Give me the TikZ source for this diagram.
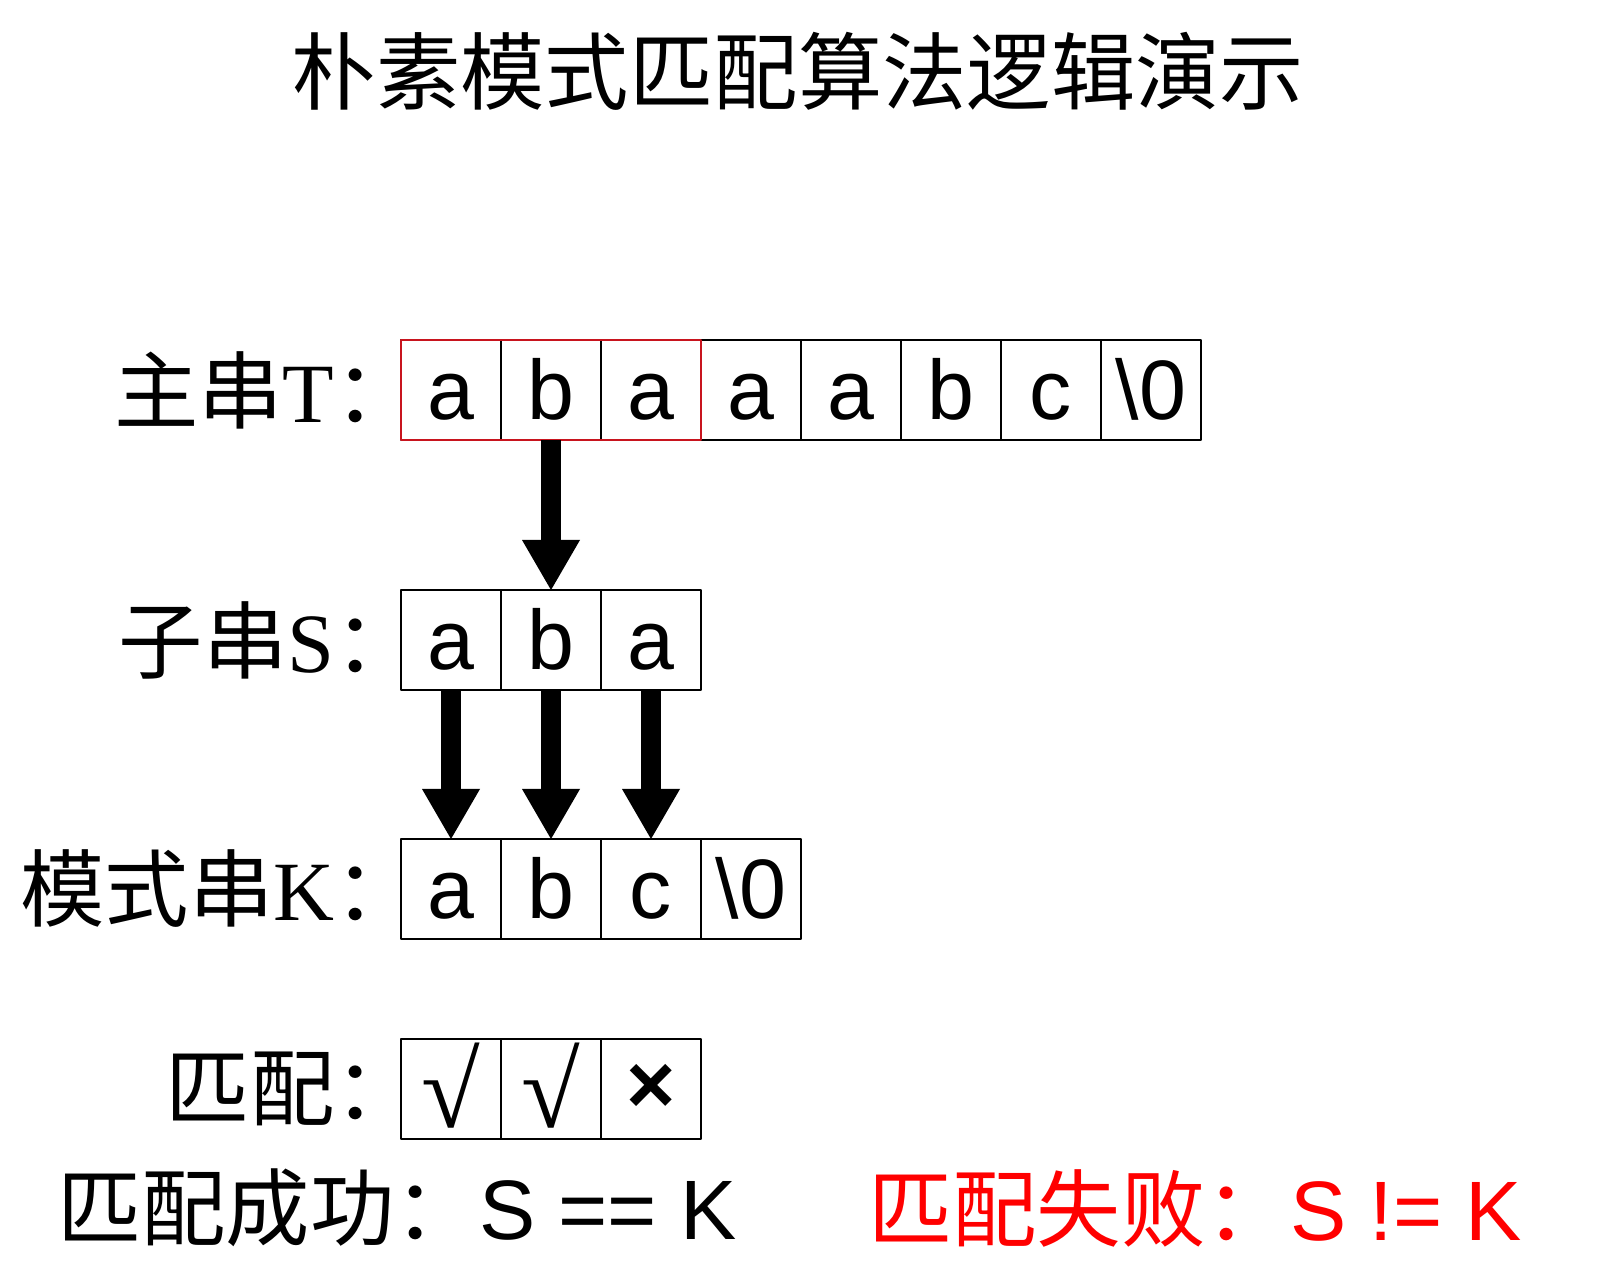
\documentclass[tikz,border=0pt]{standalone}
\usepackage{fontspec}
\setmainfont{Liberation Sans}
\newfontfamily\cjk{Noto Sans CJK SC}
\newfontfamily\lserif{Liberation Serif}
\usetikzlibrary{arrows.meta}
\definecolor{boxred}{RGB}{200,20,30}
\definecolor{txtred}{RGB}{255,0,0}
\newcommand{\okmark}{\raisebox{0.2cm}{\lserif\fontsize{76}{80}\selectfont √}}

\begin{document}
\begin{tikzpicture}[line join=round, font=\fontsize{60}{72}\selectfont,
	box/.style={draw, line width=1pt, minimum size=2.5cm, inner sep=0pt, outer sep=0pt},
	cell/.style={box, text height=1.5cm, text depth=0cm},
	lbl/.style={anchor=east, inner sep=0pt},
	bigarrow/.style={line width=0.5cm,
		-{Triangle[length=1.25cm 0 0, width=1.45cm 0 0, line width=0pt]}}]
	
	\useasboundingbox (0,0) rectangle (40,32);
	
	% ---- title ----
	\node (title) at (19.95,30.225) {\cjk 朴素模式匹配算法逻辑演示};
	
	% ---- main string T ----
	\node[lbl] (labT) at (10.475,22.25) {\cjk 主串\lserif T\cjk ：};
	\foreach \c [count=\i] in {a,b,a,a,a,b,c,\textbackslash0}
	\node[cell] (t\i) at ({11.275+2.5*(\i-1)},22.25) {\c};
	% current window on T
	\draw[boxred, line width=1pt] (t1.south west) rectangle (t3.north east);
	
	% ---- substring S ----
	\node[lbl] (labS) at (10.475,16.0) {\cjk 子串\lserif S\cjk ：};
	\foreach \c [count=\i] in {a,b,a}
	\node[cell] (s\i) at ({11.275+2.5*(\i-1)},16.0) {\c};
	
	% ---- pattern K ----
	\node[lbl] (labK) at (10.475,9.775) {\cjk 模式串\lserif K\cjk ：};
	\foreach \c [count=\i] in {a,b,c,\textbackslash0}
	\node[cell] (k\i) at ({11.275+2.5*(\i-1)},9.775) {\c};
	
	% ---- match result ----
	\node[lbl] (labM) at (10.475,4.775) {\cjk 匹配：};
	\foreach \c [count=\i] in {\okmark,\okmark,{\bfseries ×}}
	\node[box] (m\i) at ({11.275+2.5*(\i-1)},4.775) {\c};
	
	% ---- arrows ----
	\draw[bigarrow] (t2.south) -- (s2.north);
	\foreach \i in {1,2,3}
	\draw[bigarrow] (s\i.south) -- (k\i.north);
	
	% ---- bottom line ----
	\node[anchor=west, inner sep=0pt] (ok) at (1.425,1.8) {\cjk 匹配成功：\rmfamily S == K};
	\node[txtred, anchor=west, inner sep=0pt] (fail) at (21.7,1.8) {\cjk 匹配失败：\rmfamily S != K};
	
\end{tikzpicture}
\end{document}
